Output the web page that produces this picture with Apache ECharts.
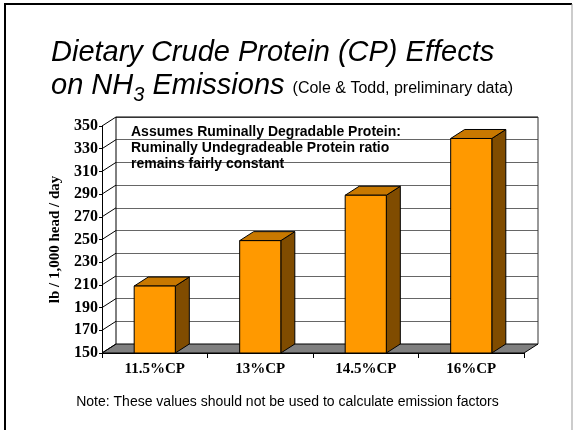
<!DOCTYPE html>
<html>
<head>
<meta charset="utf-8">
<script src="https://cdn.jsdelivr.net/npm/echarts@6/dist/echarts.min.js"></script>
<style>
  html, body { margin: 0; padding: 0; background: #fff; }
  #chart { width: 575px; height: 430px; }
</style>
</head>
<body>
<div id="chart"></div>
<script>
var categories = ['11.5%CP', '13%CP', '14.5%CP', '16%CP'];
var emissions = [209, 249, 289, 339];
var yMin = 150, yMax = 350, yStep = 20;
var yTicks = [150, 170, 190, 210, 230, 250, 270, 290, 310, 330, 350];

// depth of the 3d look, in px
var dx = 14, dy = -9;
var serif = "'Liberation Serif', 'Times New Roman', serif";
var sans = "'Liberation Sans', Arial, sans-serif";

var chart = echarts.init(document.getElementById('chart'));

var frameItem = function (params, api) {
    var band = api.size([1, 0])[0];
    var p0 = api.coord([0, yMin]);
    var left = p0[0] - band / 2, bottom = p0[1];
    var right = left + band * categories.length;
    var top = api.coord([0, yMax])[1];
    var kids = [];
    kids.push({
        type: 'polygon',
        shape: {points: [[left, bottom], [right, bottom], [right + dx, bottom + dy], [left + dx, bottom + dy]]},
        style: {fill: '#808080', stroke: '#000', lineWidth: 1}
    });
    kids.push({type: 'line', shape: {x1: left + dx, y1: top + dy, x2: right + dx, y2: top + dy}, style: {stroke: '#000', lineWidth: 1}});
    kids.push({type: 'line', shape: {x1: right + dx, y1: top + dy, x2: right + dx, y2: bottom + dy}, style: {stroke: '#333', lineWidth: 1}});
    kids.push({type: 'line', shape: {x1: left + dx, y1: top + dy, x2: left + dx, y2: bottom + dy}, style: {stroke: '#000', lineWidth: 1}});
    yTicks.forEach(function (v) {
        var y = api.coord([0, v])[1];
        kids.push({type: 'line', shape: {x1: left, y1: y, x2: left + dx, y2: y + dy}, style: {stroke: '#000', lineWidth: 1}});
    });
    return {type: 'group', children: kids};
};

var barItem = function (params, api) {
    var i = api.value(0);
    var t = api.coord([i, api.value(1)]);
    var b = api.coord([i, yMin]);
    var w = api.size([1, 0])[0] * 0.39;
    var x0 = t[0] - w / 2, x1 = t[0] + w / 2, yT = t[1], yB = b[1];
    var line = {stroke: '#000', lineWidth: 1};
    return {
        type: 'group',
        children: [
            {type: 'polygon', shape: {points: [[x1, yT], [x1 + dx, yT + dy], [x1 + dx, yB + dy], [x1, yB]]},
             style: Object.assign({fill: '#804C00'}, line)},
            {type: 'polygon', shape: {points: [[x0, yT], [x1, yT], [x1 + dx, yT + dy], [x0 + dx, yT + dy]]},
             style: Object.assign({fill: '#C87800'}, line)},
            {type: 'rect', shape: {x: x0, y: yT, width: w, height: yB - yT},
             style: Object.assign({fill: '#FF9900'}, line)}
        ]
    };
};

chart.setOption({
    animation: false,
    backgroundColor: '#fff',
    title: {
        left: 46, top: 34,
        text: '{a|Dietary Crude Protein (CP) Effects}\n{a|on NH}{s|3}{a| Emissions }{c|(Cole & Todd, preliminary data)}',
        textStyle: {
            fontWeight: 'normal',
            rich: {
                a: {fontFamily: sans, fontSize: 29, fontStyle: 'italic', fontWeight: 'normal', color: '#000',
                    lineHeight: 33, padding: [0, 0, 5, 0], verticalAlign: 'bottom'},
                s: {fontFamily: sans, fontSize: 20, fontStyle: 'italic', fontWeight: 'normal', color: '#000',
                    lineHeight: 20, verticalAlign: 'bottom'},
                c: {fontFamily: sans, fontSize: 16, fontWeight: 'normal', color: '#000',
                    lineHeight: 20, padding: [0, 0, 8, 0], verticalAlign: 'bottom'}
            }
        }
    },
    grid: [
        {left: 102, top: 126, width: 422, height: 227},
        {left: 116, top: 117, width: 422, height: 227}
    ],
    xAxis: [
        {
            type: 'category', gridIndex: 0, data: categories,
            axisLine: {lineStyle: {color: '#000'}},
            axisTick: {show: true, length: 5, lineStyle: {color: '#000'}},
            axisLabel: {margin: 9, color: '#000', fontFamily: serif, fontWeight: 'bold', fontSize: 15}
        },
        {type: 'category', gridIndex: 1, data: categories, show: false}
    ],
    yAxis: [
        {
            type: 'value', gridIndex: 0, min: yMin, max: yMax, interval: yStep,
            name: 'lb / 1,000 head / day', nameLocation: 'middle', nameGap: 36,
            nameTextStyle: {fontFamily: serif, fontWeight: 'bold', fontSize: 15, color: '#000'},
            axisLine: {show: true, lineStyle: {color: '#000'}},
            axisTick: {show: true, length: 3, lineStyle: {color: '#000'}},
            axisLabel: {margin: 4, color: '#000', fontFamily: serif, fontWeight: 'bold', fontSize: 16},
            splitLine: {show: false}
        },
        {
            type: 'value', gridIndex: 1, min: yMin, max: yMax, interval: yStep,
            axisLine: {show: false}, axisTick: {show: false}, axisLabel: {show: false},
            splitLine: {show: true, lineStyle: {color: '#666', width: 1}}
        }
    ],
    graphic: [
        {type: 'line', shape: {x1: 5, y1: 4, x2: 5, y2: 430}, style: {stroke: '#000', lineWidth: 2}},
        {type: 'line', shape: {x1: 4, y1: 4, x2: 572, y2: 4}, style: {stroke: '#000', lineWidth: 2}},
        {type: 'line', shape: {x1: 572, y1: 4, x2: 572, y2: 430}, style: {stroke: '#999', lineWidth: 1}},
        {
            type: 'text', left: 131, top: 124, z: 10,
            style: {
                text: 'Assumes Ruminally Degradable Protein:\nRuminally Undegradeable Protein ratio\nremains fairly constant',
                font: 'bold 14px ' + sans, lineHeight: 16, fill: '#000'
            }
        },
        {
            type: 'text', left: 'center', top: 395,
            style: {
                text: 'Note: These values should not be used to calculate emission factors',
                font: '14px ' + sans, fill: '#000'
            }
        }
    ],
    series: [
        {type: 'custom', name: 'frame', xAxisIndex: 0, yAxisIndex: 0, z: 1, silent: true,
         data: [[0, yMin]], renderItem: frameItem},
        {type: 'custom', name: 'NH3', xAxisIndex: 0, yAxisIndex: 0, z: 3,
         data: emissions.map(function (v, i) { return [i, v]; }), renderItem: barItem}
    ]
});
</script>
</body>
</html>
